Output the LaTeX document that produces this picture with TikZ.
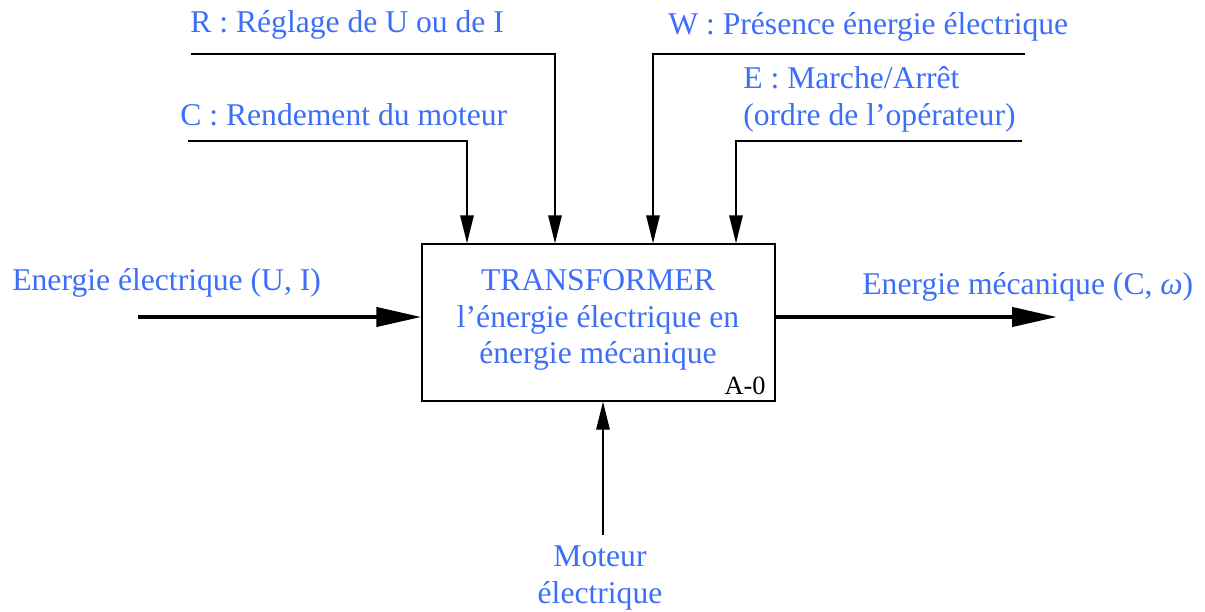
\documentclass[tikz,border=0pt]{standalone}
\usepackage{fontspec}
\setmainfont{Liberation Serif}
\usepackage{tikz}
\usetikzlibrary{positioning,arrows.meta,calc}
\usepackage{xcolor}
\definecolor{labelblue}{RGB}{60,110,250}

\begin{document}
\begin{tikzpicture}[
    fnbox/.style={rectangle, draw, line width=0.75pt, minimum width=7.06cm, minimum height=3.14cm, inner sep=0pt},
    lbl/.style={font=\fontsize{18}{21}\selectfont, text=labelblue, inner sep=0pt, align=left},
    ctrl/.style={-{Triangle[length=5.6mm,width=2.7mm]}, line width=0.75pt},
    flow/.style={-{Triangle[length=9mm,width=3.8mm]}, line width=2.3pt}
]
\useasboundingbox (0,0) rectangle (24.1,-12.24);

\node[fnbox] (fn) at (11.97,-6.45) {};
\node[lbl, align=center] (fntxt) at (11.96,-6.4) {TRANSFORMER\\l'énergie électrique en\\énergie mécanique};
\node[font=\fontsize{15}{18}\selectfont, anchor=south east, inner sep=0pt] (ref) at (15.32,-7.9) {A-0};

% controles
\node[lbl, anchor=west] (rlbl) at (3.8,-0.5)  {R : Réglage de U ou de I};
\node[lbl, anchor=west] (clbl) at (3.6,-2.3)  {C : Rendement du moteur};
\node[lbl, anchor=west] (wlbl) at (13.36,-0.54) {W : Présence énergie électrique};
\node[lbl, anchor=west] (elbl) at (14.86,-1.98) {E : Marche/Arrêt\\(ordre de l'opérateur)};

\coordinate (c0) at (3.76,-2.82);  \coordinate (c1) at (9.34,-2.82);
\coordinate (r0) at (3.82,-1.08);  \coordinate (r1) at (11.1,-1.08);
\coordinate (w0) at (20.5,-1.08);  \coordinate (w1) at (13.06,-1.08);
\coordinate (e0) at (20.44,-2.82); \coordinate (e1) at (14.72,-2.82);

\draw[ctrl] (c0) -- (c1) -- (c1 |- fn.north);
\draw[ctrl] (r0) -- (r1) -- (r1 |- fn.north);
\draw[ctrl] (w0) -- (w1) -- (w1 |- fn.north);
\draw[ctrl] (e0) -- (e1) -- (e1 |- fn.north);

% entree / sortie
\node[lbl, anchor=west] (inlbl) at (0.24,-5.66) {Energie électrique (U, I)};
\node[lbl, anchor=west] (outlbl) at (17.24,-5.74) {Energie mécanique (C, \textit{ω})};
\coordinate (in0) at (2.76,-6.34);
\coordinate (out1) at (21.14,-6.34);
\draw[flow] (in0) -- (in0 -| fn.west);
\draw[flow] (out1 -| fn.east) -- (out1);

% support
\node[lbl, align=center] (mlbl) at (12.0,-11.56) {Moteur\\électrique};
\coordinate (m0) at (12.06,-10.7);
\draw[ctrl] (m0) -- (m0 |- fn.south);
\end{tikzpicture}
\end{document}
